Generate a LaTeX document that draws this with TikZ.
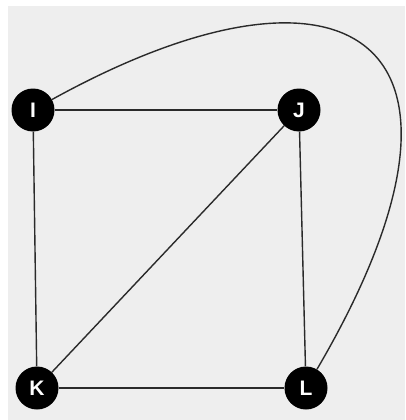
\documentclass[tikz,border=0pt]{standalone}
\usepackage{fontspec}
\setmainfont{Liberation Sans}
\definecolor{bg}{HTML}{EEEEEE}
\definecolor{edgec}{HTML}{2A2A2A}
\begin{document}
\begin{tikzpicture}[x=1pt,y=-1pt,
  vert/.style={circle,fill=black,draw=none,minimum size=43pt,inner sep=0pt,text=white,font=\fontsize{21}{21}\selectfont\bfseries},
  edge/.style={draw=edgec,line width=1.4pt}]
\useasboundingbox (0,0) rectangle (405,420);
\fill[white] (0,0) rectangle (405,420);
\fill[bg] (8,6) rectangle (405,420);
\node[vert] (I) at (33,110) {I};
\node[vert] (J) at (299,110) {J};
\node[vert] (K) at (37,388) {K};
\node[vert] (L) at (306,388) {L};
\draw[edge] (I) -- (J);
\draw[edge] (I) -- (K);
\draw[edge] (J) -- (K);
\draw[edge] (J) -- (L);
\draw[edge] (K) -- (L);
\draw[edge] (I) .. controls (350,-65) and (510,40) .. (L);
\end{tikzpicture}
\end{document}
